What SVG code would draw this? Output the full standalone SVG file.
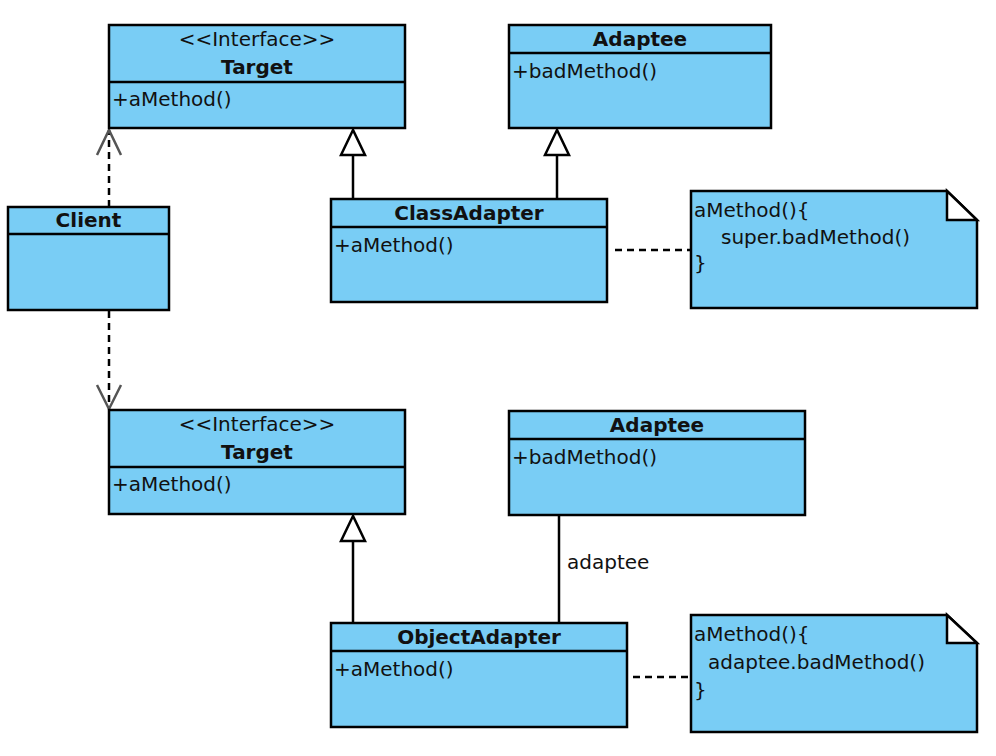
<svg xmlns="http://www.w3.org/2000/svg" width="996" height="756" viewBox="0 0 996 756">
<style>
  .box { fill: #79CDF5; stroke: #000; stroke-width: 2.5; }
  .div { stroke: #000; stroke-width: 2.5; }
  .t { font-family: "DejaVu Sans", "Liberation Sans", sans-serif; font-size: 20px; fill: #111; }
  .b { font-weight: bold; }
  .c { text-anchor: middle; }
  .line { stroke: #000; stroke-width: 2.5; fill: none; }
  .dash { stroke: #000; stroke-width: 2.5; fill: none; stroke-dasharray: 7 5; }
  .tri { fill: #fff; stroke: #000; stroke-width: 2.5; }
  .open { fill: none; stroke: #555; stroke-width: 2.5; }
  .fold { fill: #fff; stroke: #000; stroke-width: 2.5; stroke-linejoin: miter; }
</style>
<rect width="996" height="756" fill="#fff"/>

<g id="connectors">
  <!-- Client -> Target (top) dependency -->
  <line class="dash" x1="109" y1="207" x2="109" y2="130"/>
  <polyline class="open" points="97,155 109,130 121,155"/>
  <!-- Client -> Target (bottom) dependency -->
  <line class="dash" x1="109" y1="311" x2="109" y2="408"/>
  <polyline class="open" points="97,385 109,409 121,385"/>
  <!-- ClassAdapter -> Target -->
  <line class="line" x1="353" y1="155" x2="353" y2="199"/>
  <polygon class="tri" points="353,130 341,155 365,155"/>
  <!-- ClassAdapter -> Adaptee -->
  <line class="line" x1="557" y1="155" x2="557" y2="199"/>
  <polygon class="tri" points="557,130 545,155 569,155"/>
  <!-- ClassAdapter note -->
  <line class="dash" x1="615" y1="250" x2="691" y2="250"/>
  <!-- ObjectAdapter -> Target -->
  <line class="line" x1="353" y1="541" x2="353" y2="623"/>
  <polygon class="tri" points="353,516 341,541 365,541"/>
  <!-- ObjectAdapter - Adaptee association -->
  <line class="line" x1="559" y1="515" x2="559" y2="623"/>
  <text class="t" x="567" y="569">adaptee</text>
  <!-- ObjectAdapter note -->
  <line class="dash" x1="633" y1="677" x2="691" y2="677"/>
</g>

<g id="target1">
  <rect class="box" x="109" y="25" width="296" height="103"/>
  <line class="div" x1="109" y1="82" x2="405" y2="82"/>
  <text class="t c" x="257" y="46">&lt;&lt;Interface&gt;&gt;</text>
  <text class="t b c" x="257" y="74">Target</text>
  <text class="t" x="112" y="106">+aMethod()</text>
</g>

<g id="adaptee1">
  <rect class="box" x="509" y="25" width="262" height="103"/>
  <line class="div" x1="509" y1="53" x2="771" y2="53"/>
  <text class="t b c" x="640" y="46">Adaptee</text>
  <text class="t" x="512" y="78">+badMethod()</text>
</g>

<g id="client">
  <rect class="box" x="8" y="207" width="161" height="103"/>
  <line class="div" x1="8" y1="234" x2="169" y2="234"/>
  <text class="t b c" x="88.5" y="227">Client</text>
</g>

<g id="classAdapter">
  <rect class="box" x="331" y="199" width="276" height="103"/>
  <line class="div" x1="331" y1="227" x2="607" y2="227"/>
  <text class="t b c" x="469" y="220">ClassAdapter</text>
  <text class="t" x="334" y="252">+aMethod()</text>
</g>

<g id="note1">
  <path class="box" d="M691,191 H947 L977,220 V308 H691 Z"/>
  <path class="fold" d="M947,191 V220 H977 Z"/>
  <text class="t" x="694" y="217">aMethod(){</text>
  <text class="t" x="721" y="244">super.badMethod()</text>
  <text class="t" x="694" y="270">}</text>
</g>

<g id="target2">
  <rect class="box" x="109" y="410" width="296" height="104"/>
  <line class="div" x1="109" y1="467" x2="405" y2="467"/>
  <text class="t c" x="257" y="431">&lt;&lt;Interface&gt;&gt;</text>
  <text class="t b c" x="257" y="459">Target</text>
  <text class="t" x="112" y="491">+aMethod()</text>
</g>

<g id="adaptee2">
  <rect class="box" x="509" y="411" width="296" height="104"/>
  <line class="div" x1="509" y1="439" x2="805" y2="439"/>
  <text class="t b c" x="657" y="432">Adaptee</text>
  <text class="t" x="512" y="464">+badMethod()</text>
</g>

<g id="objectAdapter">
  <rect class="box" x="331" y="623" width="296" height="104"/>
  <line class="div" x1="331" y1="651" x2="627" y2="651"/>
  <text class="t b c" x="479" y="644">ObjectAdapter</text>
  <text class="t" x="334" y="676">+aMethod()</text>
</g>

<g id="note2">
  <path class="box" d="M691,615 H947 L977,643 V732 H691 Z"/>
  <path class="fold" d="M947,615 V643 H977 Z"/>
  <text class="t" x="694" y="641">aMethod(){</text>
  <text class="t" x="708" y="669">adaptee.badMethod()</text>
  <text class="t" x="694" y="697">}</text>
</g>
</svg>
